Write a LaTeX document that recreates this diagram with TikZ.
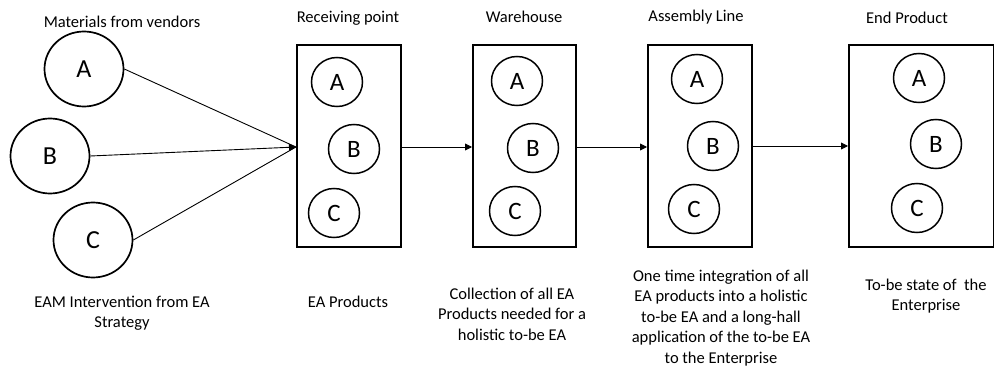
\documentclass[tikz,border=0pt]{standalone}
\usepackage{fontspec}
\setmainfont{Carlito}
\usetikzlibrary{shapes.geometric,arrows.meta}
\begin{document}
\begin{tikzpicture}[x=1pt,y=-1pt,
  lbl/.style={align=center,inner sep=0pt,font=\fontsize{16.5}{20.5}\selectfont},
  src/.style={draw,line width=1.7pt,ellipse,minimum width=79pt,minimum height=75pt,inner sep=0pt,font=\fontsize{26}{28}\selectfont},
  item/.style={draw,line width=1.5pt,ellipse,minimum width=51pt,minimum height=49pt,inner sep=0pt,font=\fontsize{25}{28}\selectfont},
  stage/.style={draw,line width=2pt,rectangle,inner sep=0pt},
  flow/.style={line width=0.9pt,-{Triangle[length=7pt,width=7pt]}}]
\useasboundingbox (0,0) rectangle (994,366);

% raw materials
\node[src] (sA) at (84,69) {A};
\node[src] (sB) at (50,156) {B};
\node[src] (sC) at (93,240) {C};
\node[lbl] (tSrc) at (122,22) {Materials from vendors};
\node[lbl] (bSrc) at (122,313) {EAM Intervention from EA\\Strategy};

% stage boxes
\node[stage,minimum width=104pt,minimum height=202pt] (recv) at (349,146) {};
\node[stage,minimum width=103pt,minimum height=202pt] (ware) at (524.5,146) {};
\node[stage,minimum width=104pt,minimum height=202pt] (asm) at (700,146) {};
\node[stage,minimum width=145pt,minimum height=202pt] (endp) at (921.5,146) {};

% items inside the stages
\node[item] (rA) at (337,82) {A};
\node[item] (rB) at (354,149) {B};
\node[item] (rC) at (334,213) {C};
\node[item] (wA) at (517,81) {A};
\node[item] (wB) at (533,148) {B};
\node[item] (wC) at (515,211) {C};
\node[item] (aA) at (697,79) {A};
\node[item] (aB) at (713,146) {B};
\node[item] (aC) at (694,209) {C};
\node[item] (eA) at (919,78) {A};
\node[item] (eB) at (936,144) {B};
\node[item] (eC) at (917,208) {C};

% stage titles
\node[lbl] (tRecv) at (348,18) {Receiving point};
\node[lbl] (tWare) at (524,17) {Warehouse};
\node[lbl] (tAsm) at (696,17) {Assembly Line};
\node[lbl] (tEnd) at (907,18) {End Product};

% stage descriptions
\node[lbl] (bRecv) at (348,302) {EA Products};
\node[lbl] (bWare) at (512,314) {Collection of all EA\\Products needed for a\\holistic to-be EA};
\node[lbl] (bAsm) at (721,318) {One time integration of all\\EA products into a holistic\\to-be EA and a long-hall\\application of the to-be EA\\to the Enterprise};
\node[lbl] (bEnd) at (926,296) {To-be state of~ the\\Enterprise};

% connectors
\coordinate (in) at (recv.west |- 0,147);
\draw[line width=0.9pt] (sA.east) -- (in);
\draw[line width=0.9pt] (sC.east) -- (in);
\draw[flow] (sB.east) -- (in);
\draw[flow] (recv.east |- 0,147) -- (ware.west |- 0,147);
\draw[flow] (ware.east |- 0,147) -- (asm.west |- 0,147);
\draw[flow] (asm.east |- 0,146) -- (endp.west |- 0,146);
\end{tikzpicture}
\end{document}
